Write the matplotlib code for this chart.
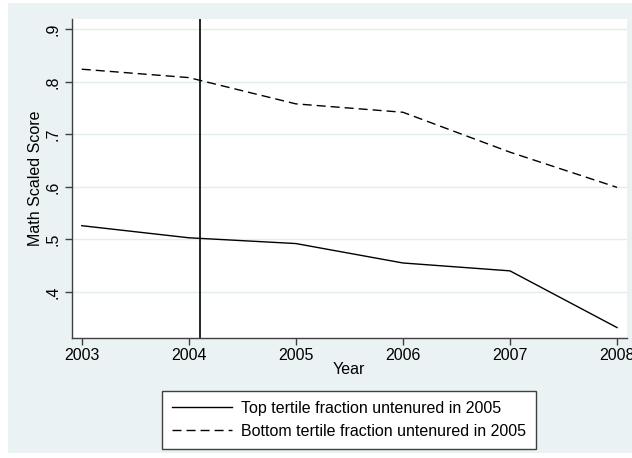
import matplotlib
matplotlib.use('Agg')
import matplotlib.pyplot as plt
from matplotlib.patches import Rectangle

plt.rcParams['font.family'] = ['Liberation Sans', 'DejaVu Sans']

# Mean math scores by year for the two tertile groups
years = [2003, 2004, 2005, 2006, 2007, 2008]
top_tertile = [0.526, 0.503, 0.492, 0.455, 0.440, 0.332]
bottom_tertile = [0.824, 0.808, 0.758, 0.742, 0.666, 0.599]
event_year = 2004.1

y_ticks = [0.4, 0.5, 0.6, 0.7, 0.8, 0.9]
y_tick_labels = ['.4', '.5', '.6', '.7', '.8', '.9']

bg = '#EAF2F3'
W, H = 632, 458
fig = plt.figure(figsize=(W / 100, H / 100), dpi=100, facecolor='white')

# shaded graph region
fig.patches.append(Rectangle((8 / W, 1 - 453 / H), 1 - 8 / W, (453 - 3) / H,
                             transform=fig.transFigure, facecolor=bg,
                             edgecolor='none', zorder=-10))

ax = fig.add_axes([72 / W, 1 - 337.5 / H, 555 / W, 318.5 / H])
ax.set_facecolor('white')

ax.plot(years, top_tertile, color='black', lw=1.0,
        label='Top tertile fraction untenured in 2005')
ax.plot(years, bottom_tertile, color='black', lw=1.0, dashes=(6.5, 3.6),
        label='Bottom tertile fraction untenured in 2005')
ax.axvline(event_year, color='black', lw=1.2)

ax.set_xlim(2002.909, 2008.093)
ax.set_ylim(0.3131, 0.9196)
ax.set_xticks(years)
ax.set_yticks(y_ticks)
ax.set_yticklabels(y_tick_labels, rotation=90, va='center')
ax.grid(axis='y', color='#E3ECEE', lw=1.0)
ax.set_axisbelow(True)

for side in ['top', 'right']:
    ax.spines[side].set_visible(False)
for side in ['left', 'bottom']:
    ax.spines[side].set_color('#404040')
    ax.spines[side].set_linewidth(1.0)

ax.tick_params(axis='both', length=5, width=1.0, color='#404040',
               labelsize=11.5, labelcolor='black')
ax.tick_params(axis='x', pad=2.5)
ax.tick_params(axis='y', pad=3.5)

fig.text(35.5 / W, 1 - 178 / H, 'Math Scaled Score', rotation=90,
         ha='center', va='center', fontsize=11.5)
fig.text(349 / W, 1 - 369 / H, 'Year', ha='center', va='center',
         fontsize=11.5)

leg = ax.legend(loc='center', bbox_to_anchor=(349 / W, 1 - 420 / H),
                bbox_transform=fig.transFigure, fontsize=11.5,
                frameon=True, fancybox=False, framealpha=1,
                edgecolor='#404040', handlelength=3.75, handletextpad=0.6,
                labelspacing=0.5, borderpad=0.6, borderaxespad=0)
leg.get_frame().set_linewidth(1.0)

fig.savefig('out.png', dpi=100, facecolor='white')
